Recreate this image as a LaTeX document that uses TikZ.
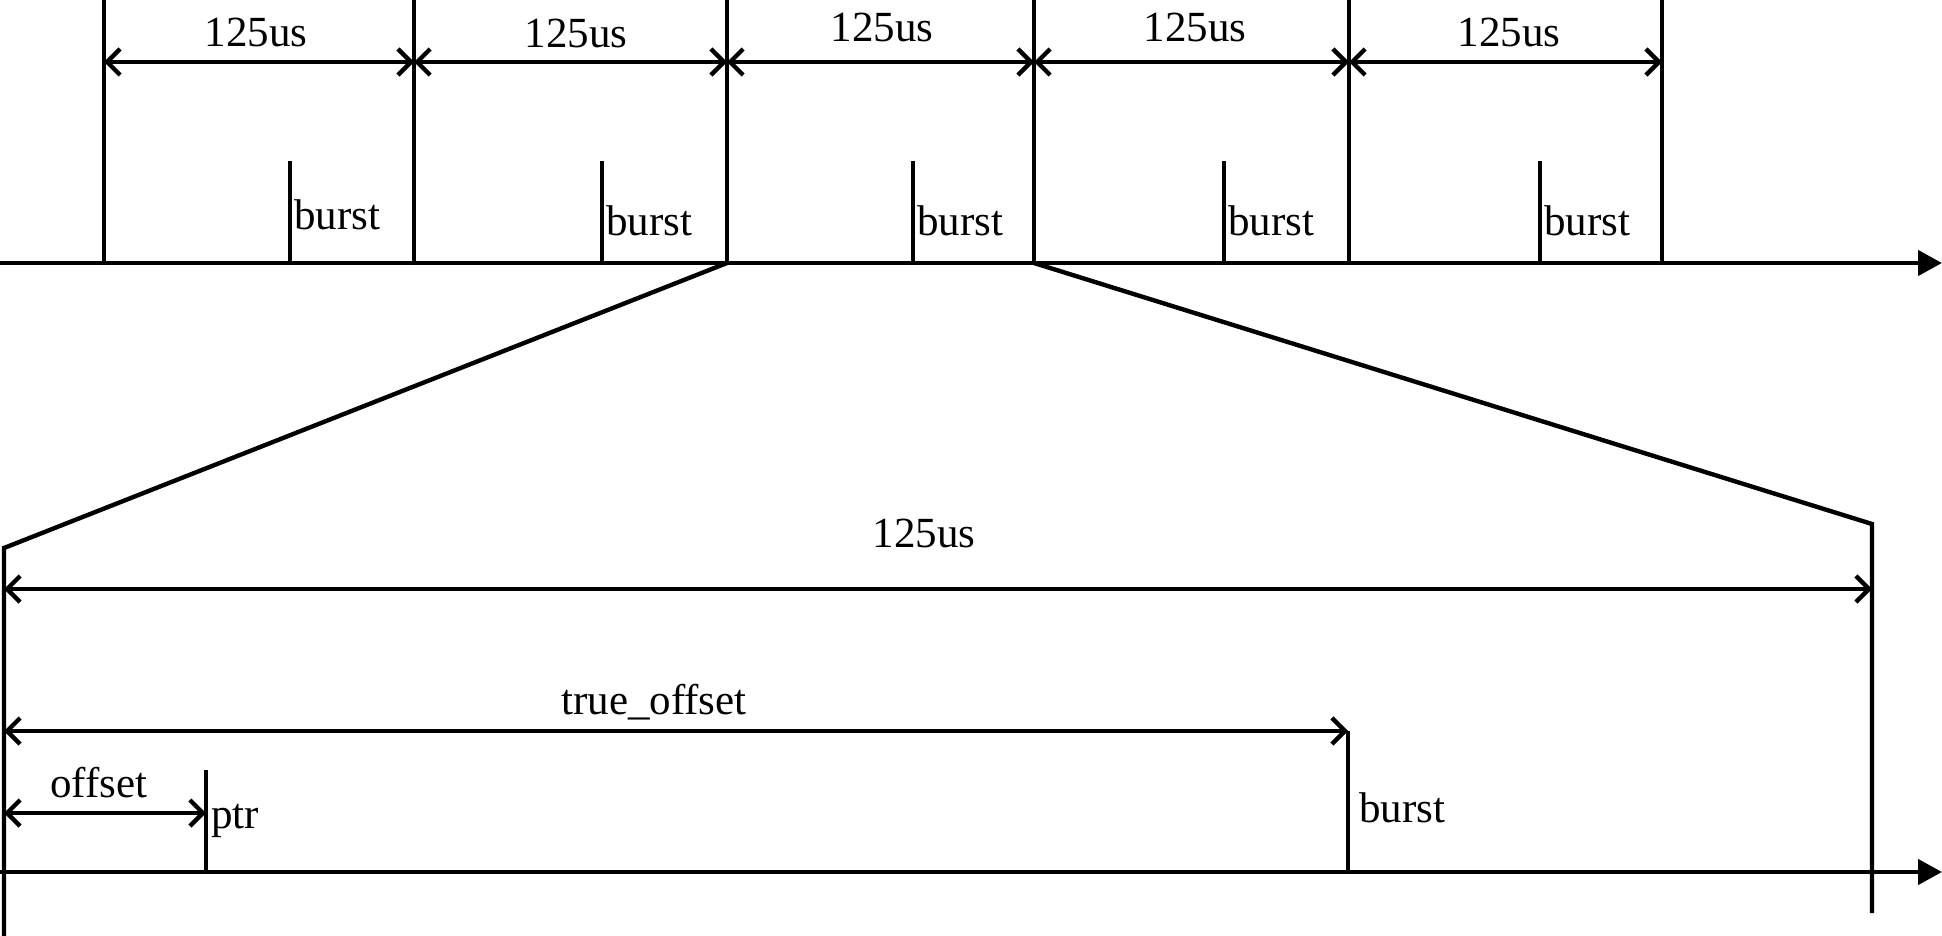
\documentclass[tikz,border=0pt]{standalone}
\usepackage{fontspec}
\setmainfont{Liberation Serif}
\usetikzlibrary{arrows.meta}
\begin{document}
\begin{tikzpicture}[x=0.5pt,y=-0.5pt,
  ln/.style={line width=2.2pt},
  dimln/.style={ln, {Straight Barb[length=6.5pt,width=13pt]}-{Straight Barb[length=6.5pt,width=13pt]}},
  axisln/.style={ln, -{Triangle[length=12pt,width=12.5pt]}},
  lbl/.style={inner sep=0pt, font=\fontsize{21.5}{24}\selectfont},
]
\useasboundingbox (0,0) rectangle (1942,936);
% top time axis
\coordinate (ta0) at (0,263);
\coordinate (ta1) at (1942,263);
\draw[axisln] (ta0) -- (ta1);
% frame boundaries
\foreach \i/\x in {0/104,1/414,2/727,3/1034,4/1349,5/1662}{
  \coordinate (vt\i) at (\x,0);
  \coordinate (vb\i) at (\x,263);
  \coordinate (vd\i) at (\x,62);
  \draw[ln] (vt\i) -- (vb\i);
}
% 125us dimensions
\foreach \a/\b in {0/1,1/2,2/3,3/4,4/5}{
  \draw[dimln] (vd\a) -- (vd\b);
}
\node[lbl, anchor=base] (u1) at (256,47) {125us};
\node[lbl, anchor=base] (u2) at (576,48) {125us};
\node[lbl, anchor=base] (u3) at (882,42) {125us};
\node[lbl, anchor=base] (u4) at (1195,42) {125us};
\node[lbl, anchor=base] (u5) at (1509,47) {125us};
% bursts
\foreach \i/\x/\yb in {1/290/230,2/602/235,3/913/235,4/1224/235,5/1540/235}{
  \coordinate (bt\i) at (\x,161);
  \coordinate (bb\i) at (\x,263);
  \draw[ln] (bt\i) -- (bb\i);
  \node[lbl, anchor=base west] (bl\i) at (\x+4,\yb) {burst};
}
% zoom funnel
\coordinate (lt) at (4,548);
\coordinate (lb) at (4,936);
\coordinate (rt) at (1872,524);
\coordinate (rb) at (1872,913);
\draw[ln] (vb2) -- (lt) -- (lb);
\draw[ln] (vb3) -- (rt) -- (rb);
% big 125us
\coordinate (bd0) at (4,589);
\coordinate (bd1) at (1872,589);
\draw[dimln] (bd0) -- (bd1);
\node[lbl, anchor=base] (ubig) at (924,547) {125us};
% bottom axis
\coordinate (ba0) at (0,872);
\coordinate (ba1) at (1942,872);
\draw[axisln] (ba0) -- (ba1);
% true_offset and burst
\coordinate (to0) at (4,731);
\coordinate (to1) at (1348,731);
\coordinate (bu1) at (1348,872);
\draw[dimln] (to0) -- (to1);
\draw[ln] (to1) -- (bu1);
\node[lbl, anchor=base] (tol) at (654,714) {true\_offset};
\node[lbl, anchor=base west] (bul) at (1359,822) {burst};
% offset and ptr
\coordinate (of0) at (4,813);
\coordinate (of1) at (206,813);
\coordinate (pt0) at (206,770);
\coordinate (pt1) at (206,872);
\draw[dimln] (of0) -- (of1);
\draw[ln] (pt0) -- (pt1);
\node[lbl, anchor=base] (ofl) at (99,797) {offset};
\node[lbl, anchor=base west] (ptl) at (211,828) {ptr};
\end{tikzpicture}
\end{document}
